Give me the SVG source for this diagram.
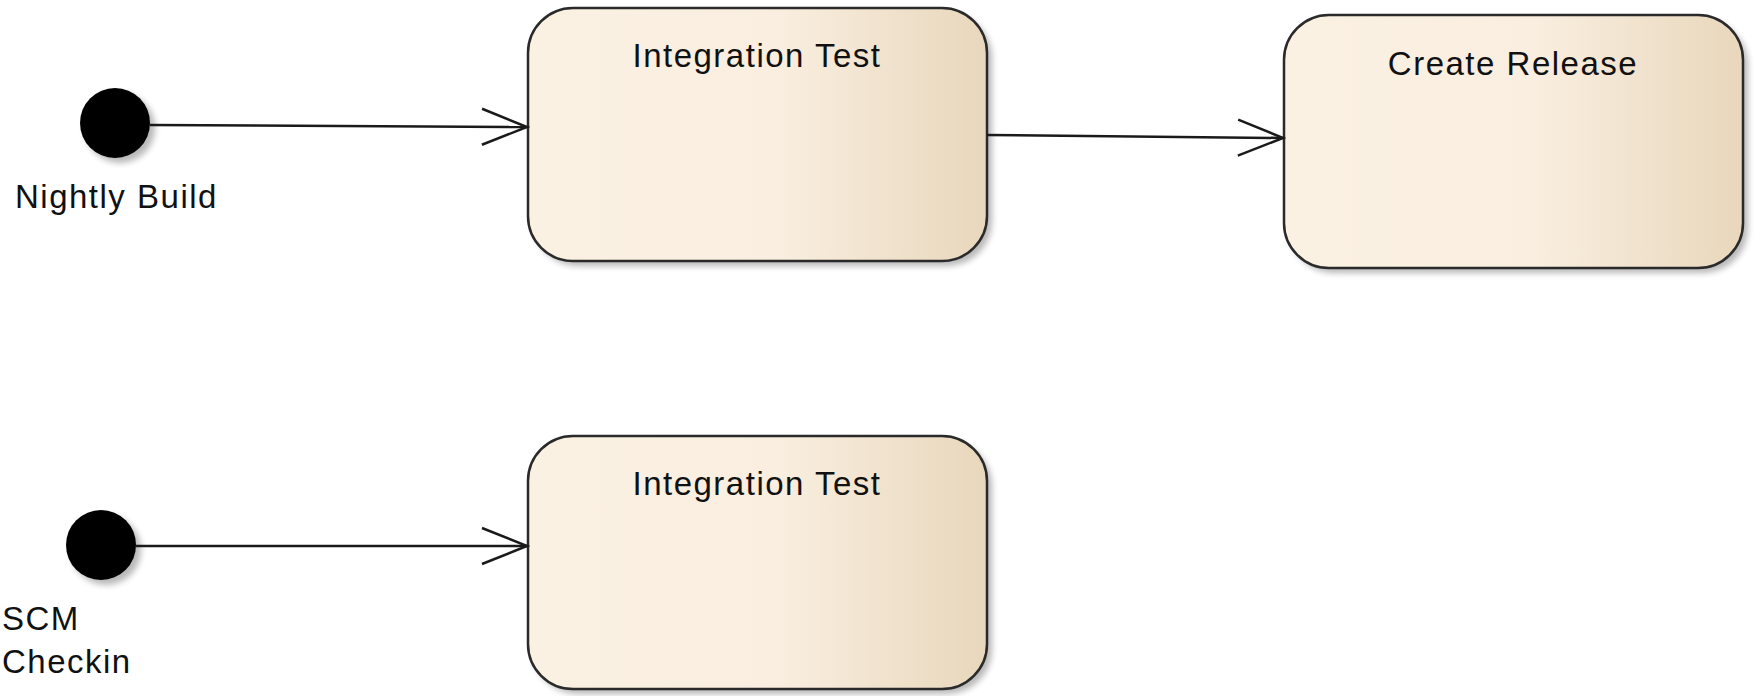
<svg xmlns="http://www.w3.org/2000/svg" width="1754" height="696" viewBox="0 0 1754 696">
<style>
.state{stroke:#2a2a2a;stroke-width:2.5;fill:url(#fillg)}
.shadow{fill:#000;opacity:0.28;filter:url(#blur)}
.init{fill:#000}
.lbl{font-family:"Liberation Sans",Arial,sans-serif;font-size:33px;fill:#111;letter-spacing:1.5px}
.edge{stroke:#1a1a1a;stroke-width:2.5;fill:none;marker-end:url(#arr)}
</style>
<defs>
<linearGradient id="fillg" x1="0" y1="0" x2="1" y2="0">
<stop offset="0" stop-color="#FBF1E3"/>
<stop offset="0.55" stop-color="#F9EEDF"/>
<stop offset="1" stop-color="#E8D7BC"/>
</linearGradient>
<filter id="blur" x="-20%" y="-20%" width="140%" height="140%"><feGaussianBlur stdDeviation="3"/></filter>
<marker id="arr" markerUnits="userSpaceOnUse" markerWidth="60" markerHeight="50" refX="46" refY="20" orient="auto">
<path d="M1,2 L46,20 L1,38" fill="none" stroke="#1a1a1a" stroke-width="2.5"/>
</marker>
</defs>

<g id="nightly-build">
<circle class="shadow" cx="120" cy="128" r="35"/>
<circle class="init" cx="115" cy="123" r="35"/>
<text class="lbl" x="15" y="208">Nightly Build</text>
</g>

<g id="scm-checkin">
<circle class="shadow" cx="106" cy="550" r="35"/>
<circle class="init" cx="101" cy="545" r="35"/>
<text class="lbl" x="2" y="630">SCM</text>
<text class="lbl" x="2" y="673">Checkin</text>
</g>

<g id="integration-test-1">
<rect class="shadow" x="533" y="13" width="459" height="253" rx="45" ry="45"/>
<rect class="state" x="528" y="8" width="459" height="253" rx="45" ry="45"/>
<text class="lbl" x="757" y="67" text-anchor="middle">Integration Test</text>
</g>

<g id="create-release">
<rect class="shadow" x="1289" y="20" width="459" height="253" rx="45" ry="45"/>
<rect class="state" x="1284" y="15" width="459" height="253" rx="45" ry="45"/>
<text class="lbl" x="1513" y="75" text-anchor="middle">Create Release</text>
</g>

<g id="integration-test-2">
<rect class="shadow" x="533" y="441" width="459" height="253" rx="45" ry="45"/>
<rect class="state" x="528" y="436" width="459" height="253" rx="45" ry="45"/>
<text class="lbl" x="757" y="495" text-anchor="middle">Integration Test</text>
</g>

<g id="connectors">
<path class="edge" d="M150,125 L527,127"/>
<path class="edge" d="M987,135 L1283,138"/>
<path class="edge" d="M136,546 L527,546"/>
</g>
</svg>
